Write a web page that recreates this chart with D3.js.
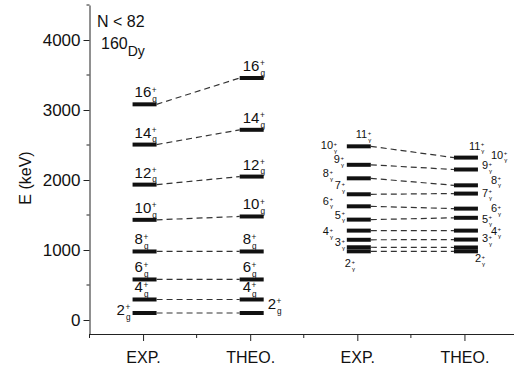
<!DOCTYPE html>
<meta charset="utf-8">
<script src="https://d3js.org/d3.v7.min.js"></script>
<style>
  body { margin: 0; background: #fff; }
  text { font-family: "Liberation Sans", Arial, sans-serif; fill: #111; }
  .axis path, .axis line { stroke: #222; }
</style>
<div id="chart"></div>
<script>
  // ground band (g) and gamma band (γ) levels, keV
  var gsbSpins = [2, 4, 6, 8, 10, 12, 14, 16];
  var gsbExp = [100, 293, 579, 979, 1431, 1934, 2506, 3081];
  var gsbTheo = [100, 293, 579, 979, 1479, 2049, 2717, 3457];

  var gamSpins = [2, 3, 4, 5, 6, 7, 8, 9, 10, 11];
  var gamExp = [981, 1039, 1146, 1277, 1434, 1624, 1796, 2024, 2217, 2481];
  var gamTheo = [981, 1036, 1149, 1277, 1460, 1591, 1806, 1924, 2150, 2320];

  var columns = ["EXP.", "THEO.", "EXP.", "THEO."];
  var yTicks = [0, 1000, 2000, 3000, 4000];

  var width = 514, height = 368;

  var svg = d3.select("#chart").append("svg")
    .attr("width", width)
    .attr("height", height);

  var x = d3.scaleLinear().domain([0, 4]).range([89.5, 518]);
  var y = d3.scaleLinear().domain([-200, 4500]).range([334, 5]);

  // axes
  var yAxis = svg.append("g").attr("class", "axis")
    .attr("transform", "translate(89.5,0)")
    .call(d3.axisLeft(y).tickValues(yTicks).tickFormat(d3.format("d"))
      .tickSize(6).tickPadding(3).tickSizeOuter(0));
  yAxis.selectAll("text").style("font-size", "17px").attr("dy", "0.35em");
  yAxis.append("g").selectAll("line")
    .data(d3.range(500, 4600, 1000))
    .join("line")
    .attr("x1", -3).attr("x2", 0)
    .attr("y1", d => y(d)).attr("y2", d => y(d))
    .attr("stroke", "#222");

  var xAxis = svg.append("g").attr("class", "axis")
    .attr("transform", "translate(0,334)")
    .call(d3.axisBottom(x).tickValues([0.5, 1.5, 2.5, 3.5])
      .tickFormat((d, i) => columns[i]).tickSize(7).tickPadding(11).tickSizeOuter(0));
  xAxis.selectAll("text").style("font-size", "16px");
  xAxis.append("g").selectAll("line")
    .data([0, 1, 2, 3, 4])
    .join("line")
    .attr("x1", d => x(d)).attr("x2", d => x(d))
    .attr("y1", 0).attr("y2", 4)
    .attr("stroke", "#222");

  svg.append("text")
    .attr("transform", "translate(31,178) rotate(-90)")
    .attr("text-anchor", "middle")
    .style("font-size", "16px")
    .text("E (keV)");

  svg.append("text").attr("x", 97).attr("y", 27).style("font-size", "16px").text("N < 82");
  var nuc = svg.append("text").attr("x", 101).attr("y", 49).style("font-size", "16px");
  nuc.append("tspan").text("160");
  nuc.append("tspan").attr("dy", 7).style("font-size", "14px").text("Dy");

  var half = 12;
  function cx(c) { return x(c + 0.5) + 1.5; }

  function drawBand(expE, theoE, c0) {
    var g = svg.append("g");
    g.selectAll(".exp").data(expE).join("line")
      .attr("x1", cx(c0) - half).attr("x2", cx(c0) + half)
      .attr("y1", d => y(d)).attr("y2", d => y(d))
      .attr("stroke", "#111").attr("stroke-width", 4);
    g.selectAll(".theo").data(theoE).join("line")
      .attr("x1", cx(c0 + 1) - half).attr("x2", cx(c0 + 1) + half)
      .attr("y1", d => y(d)).attr("y2", d => y(d))
      .attr("stroke", "#111").attr("stroke-width", 4);
    g.selectAll(".link").data(expE).join("line")
      .attr("x1", cx(c0) + half).attr("x2", cx(c0 + 1) - half)
      .attr("y1", d => y(d)).attr("y2", (d, i) => y(theoE[i]))
      .attr("stroke", "#333").attr("stroke-width", 1.2)
      .attr("stroke-dasharray", "6,4");
  }
  drawBand(gsbExp, gsbTheo, 0);
  drawBand(gamExp, gamTheo, 2);

  // spin label with stacked + and band subscript
  function label(px, py, spin, band, size) {
    var t = svg.append("text").attr("x", px).attr("y", py)
      .style("font-size", size + "px").text(spin);
    var w = t.node().getComputedTextLength();
    svg.append("text").attr("x", px + w + 0.5).attr("y", py - size * 0.32)
      .style("font-size", (size * 0.55) + "px").text("+");
    svg.append("text").attr("x", px + w + 1).attr("y", py + size * 0.32)
      .style("font-size", (size * 0.55) + "px").text(band);
  }

  // ground band labels
  gsbSpins.forEach(function (s, i) {
    if (s === 2) {
      label(cx(0) - half - 16, y(gsbExp[i]) + 2, s, "g", 15);
      label(cx(1) + half + 4, y(gsbTheo[i]) - 4, s, "g", 15);
    } else {
      label(cx(0) - half + 2, y(gsbExp[i]) - 7, s, "g", 15);
      label(cx(1) - half + 3, y(gsbTheo[i]) - 7, s, "g", 15);
    }
  });

  // gamma band label layout (px offsets from bar end / bar line)
  var gamExpDx = [-2, -12, -24, -12, -24, -12, -24, -13, -26, 9];
  var gamExpDy = [16, -1, -4.5, -12, -15, -17, -17, -15, -15.5, -8];
  var gamTheoDx = [-3, 4, 13, 4, 13, 4, 13, 4, 13, -9];
  var gamTheoDy = [11, -5, -5, -8, -5.5, -12, -10, -16, -11, -8];

  gamSpins.forEach(function (s, i) {
    label(cx(2) - half + gamExpDx[i], y(gamExp[i]) + gamExpDy[i], s, "\u03b3", 11);
    label(cx(3) + half + gamTheoDx[i], y(gamTheo[i]) + gamTheoDy[i], s, "\u03b3", 11);
  });
</script>
